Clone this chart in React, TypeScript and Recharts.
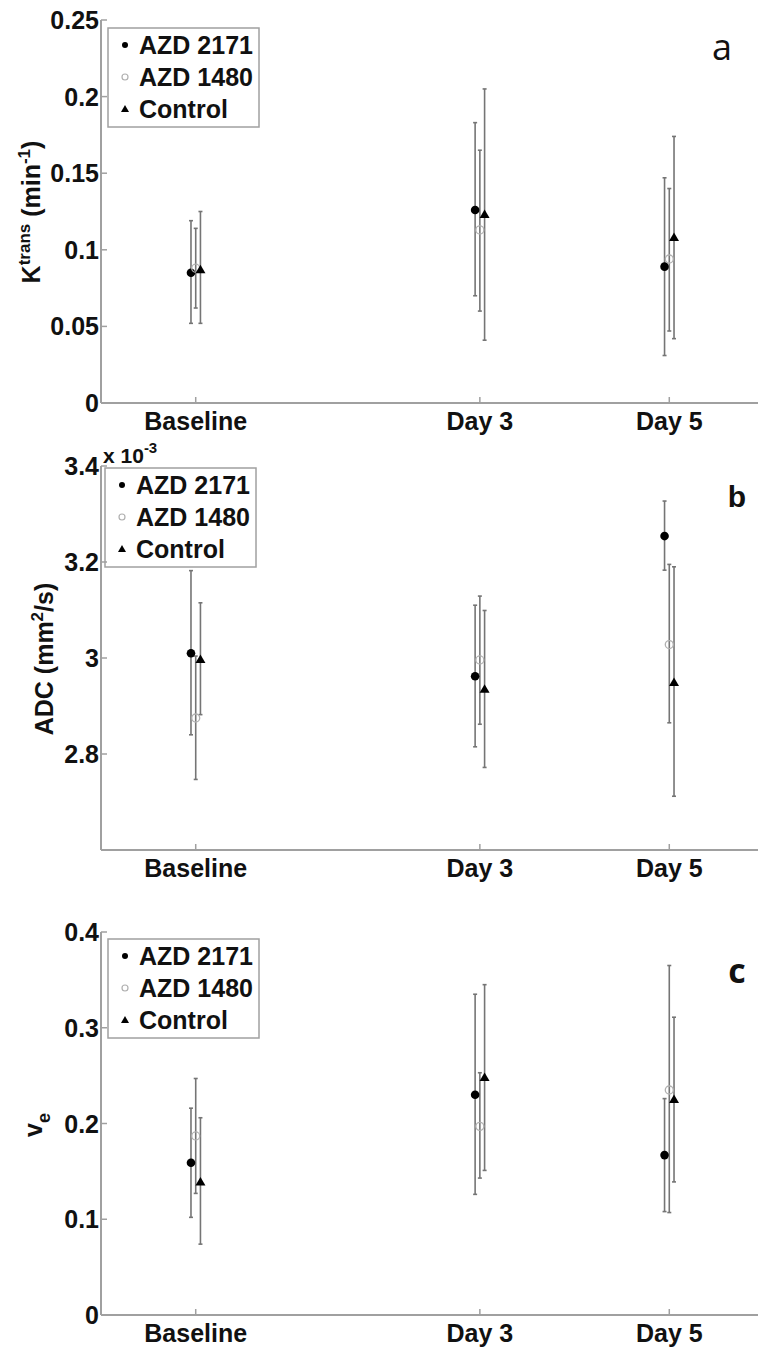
import React from 'react';
import { ScatterChart, Scatter, XAxis, YAxis, ErrorBar } from 'recharts';

// ---------- shared categories ----------
const days = [0, 3, 5];
const dayLabels = ['Baseline', 'Day 3', 'Day 5'];
const seriesNames = ['AZD 2171', 'AZD 1480', 'Control'];
const seriesOffsets = [-0.05, 0, 0.05];

// ---------- panel a : Ktrans (min^-1) ----------
const ktransAzd2171Mean = [0.085, 0.126, 0.089];
const ktransAzd2171Low = [0.052, 0.070, 0.031];
const ktransAzd2171High = [0.119, 0.183, 0.147];
const ktransAzd1480Mean = [0.088, 0.113, 0.094];
const ktransAzd1480Low = [0.062, 0.060, 0.047];
const ktransAzd1480High = [0.114, 0.165, 0.140];
const ktransControlMean = [0.087, 0.123, 0.108];
const ktransControlLow = [0.052, 0.041, 0.042];
const ktransControlHigh = [0.125, 0.205, 0.174];
const ktransTicks = [0, 0.05, 0.1, 0.15, 0.2, 0.25];
const ktransTickLabels = ['0', '0.05', '0.1', '0.15', '0.2', '0.25'];

// ---------- panel b : ADC (x10^-3 mm^2/s) ----------
const adcAzd2171Mean = [3.010, 2.962, 3.254];
const adcAzd2171Low = [2.840, 2.815, 3.183];
const adcAzd2171High = [3.182, 3.110, 3.327];
const adcAzd1480Mean = [2.875, 2.996, 3.028];
const adcAzd1480Low = [2.747, 2.862, 2.865];
const adcAzd1480High = [3.004, 3.129, 3.195];
const adcControlMean = [2.997, 2.935, 2.949];
const adcControlLow = [2.882, 2.772, 2.712];
const adcControlHigh = [3.115, 3.099, 3.190];
const adcTicks = [2.8, 3, 3.2, 3.4];
const adcTickLabels = ['2.8', '3', '3.2', '3.4'];

// ---------- panel c : ve ----------
const veAzd2171Mean = [0.159, 0.230, 0.167];
const veAzd2171Low = [0.102, 0.126, 0.108];
const veAzd2171High = [0.216, 0.335, 0.226];
const veAzd1480Mean = [0.187, 0.197, 0.235];
const veAzd1480Low = [0.127, 0.143, 0.107];
const veAzd1480High = [0.247, 0.253, 0.365];
const veControlMean = [0.139, 0.248, 0.225];
const veControlLow = [0.074, 0.151, 0.139];
const veControlHigh = [0.206, 0.345, 0.311];
const veTicks = [0, 0.1, 0.2, 0.3, 0.4];
const veTickLabels = ['0', '0.1', '0.2', '0.3', '0.4'];

// ---------- styles ----------
const FONT = '"Liberation Sans", Arial, Helvetica, sans-serif';
const AXIS = '#a0a0a0';
const ERR = '#757575';
const TEXT = '#111';
const OPEN = '#b0b0b0';
const CHART_W = 770;

type Pt = { x: number; y: number; err: [number, number] };

function buildSeries(mean: number[], low: number[], high: number[], idx: number): Pt[] {
  return days.map((d, i) => ({
    x: d + seriesOffsets[idx],
    y: mean[i],
    err: [mean[i] - low[i], high[i] - mean[i]],
  }));
}

const FilledDot = (p: any) => <circle cx={p.cx} cy={p.cy} r={4.3} fill="#000" />;
const OpenDot = (p: any) => (
  <circle cx={p.cx} cy={p.cy} r={4} fill="none" stroke={OPEN} strokeWidth={1.3} />
);
const Tri = (p: any) => (
  <polygon
    points={`${p.cx},${p.cy - 5} ${p.cx - 5},${p.cy + 3.5} ${p.cx + 5},${p.cy + 3.5}`}
    fill="#000"
  />
);
const shapes = [FilledDot, OpenDot, Tri];

const XTickBottom = (p: any) => {
  const { x, y, payload } = p;
  const idx = days.indexOf(payload.value);
  return (
    <g>
      <line x1={x} y1={y} x2={x} y2={y - 6} stroke={AXIS} strokeWidth={1.5} />
      <text x={x} y={y + 27} textAnchor="middle" fontFamily={FONT} fontSize={25} fontWeight="bold" fill={TEXT}>
        {idx >= 0 ? dayLabels[idx] : ''}
      </text>
    </g>
  );
};
const XTickTop = (p: any) => (
  <line x1={p.x} y1={p.y} x2={p.x} y2={p.y + 6} stroke={AXIS} strokeWidth={1.5} />
);
const makeYTickLeft = (ticks: number[], labels: string[]) => (p: any) => {
  const { x, y, payload } = p;
  const idx = ticks.findIndex((t) => Math.abs(t - payload.value) < 1e-9);
  return (
    <g>
      <line x1={x} y1={y} x2={x + 6} y2={y} stroke={AXIS} strokeWidth={1.5} />
      <text x={x - 2} y={y + 9} textAnchor="end" fontFamily={FONT} fontSize={25} fontWeight="bold" fill={TEXT}>
        {idx >= 0 ? labels[idx] : ''}
      </text>
    </g>
  );
};
const YTickRight = (p: any) => (
  <line x1={p.x} y1={p.y} x2={p.x - 8} y2={p.y} stroke={AXIS} strokeWidth={1.5} />
);

function LegendBox({ x, y }: { x: number; y: number }) {
  return (
    <g>
      <rect x={x} y={y} width={151} height={99} fill="#fff" stroke={AXIS} strokeWidth={1.5} />
      {seriesNames.map((name, i) => {
        const base = y + 26 + i * 32;
        const cx = x + 17;
        const cy = base - 9;
        let marker;
        if (i === 0) marker = <circle cx={cx} cy={cy} r={3} fill="#000" />;
        else if (i === 1) marker = <circle cx={cx} cy={cy} r={3} fill="none" stroke={OPEN} strokeWidth={1.2} />;
        else marker = <polygon points={`${cx},${cy - 4} ${cx - 4},${cy + 3} ${cx + 4},${cy + 3}`} fill="#000" />;
        return (
          <g key={name}>
            {marker}
            <text x={x + 31} y={base} fontFamily={FONT} fontSize={25} fontWeight="bold" fill={TEXT}>
              {name}
            </text>
          </g>
        );
      })}
    </g>
  );
}

type PanelProps = {
  height: number;
  marginTop: number;
  xAxisHeight: number;
  yDomain: [number, number];
  yTicks: number[];
  yTickLabels: string[];
  series: Pt[][];
  children?: React.ReactNode;
};

function Panel({ height, marginTop, xAxisHeight, yDomain, yTicks, yTickLabels, series, children }: PanelProps) {
  return (
    <ScatterChart width={CHART_W} height={height} margin={{ top: marginTop, right: 6, bottom: 0, left: 0 }}>
      <XAxis
        xAxisId={0}
        type="number"
        dataKey="x"
        domain={[-1, 6]}
        ticks={days}
        interval={0}
        orientation="bottom"
        height={xAxisHeight}
        tickSize={0}
        tickMargin={0}
        tickLine={false}
        axisLine={{ stroke: AXIS, strokeWidth: 2 }}
        tick={(p: any) => <XTickBottom {...p} />}
        allowDataOverflow
      />
      <XAxis
        xAxisId="top"
        type="number"
        domain={[-1, 6]}
        ticks={days}
        interval={0}
        orientation="top"
        height={0}
        tickSize={0}
        tickMargin={0}
        tickLine={false}
        axisLine={{ stroke: AXIS, strokeWidth: 2 }}
        tick={(p: any) => <XTickTop {...p} />}
        allowDataOverflow
      />
      <YAxis
        yAxisId={0}
        type="number"
        dataKey="y"
        domain={yDomain}
        ticks={yTicks}
        interval={0}
        orientation="left"
        width={101}
        tickSize={0}
        tickMargin={0}
        tickLine={false}
        axisLine={{ stroke: AXIS, strokeWidth: 2 }}
        tick={makeYTickLeft(yTicks, yTickLabels)}
        allowDataOverflow
      />
      <YAxis
        yAxisId="right"
        type="number"
        domain={yDomain}
        ticks={yTicks}
        interval={0}
        orientation="right"
        width={0}
        tickSize={0}
        tickMargin={0}
        tickLine={false}
        axisLine={{ stroke: AXIS, strokeWidth: 2 }}
        tick={(p: any) => <YTickRight {...p} />}
        allowDataOverflow
      />
      {series.map((data, i) => (
        <Scatter
          key={seriesNames[i]}
          name={seriesNames[i]}
          data={data}
          xAxisId={0}
          yAxisId={0}
          shape={shapes[i]}
          isAnimationActive={false}
        >
          <ErrorBar dataKey="err" direction="y" width={2} stroke={ERR} strokeWidth={1.6} isAnimationActive={false} />
        </Scatter>
      ))}
      {children}
    </ScatterChart>
  );
}

export default function App() {
  const seriesA = [
    buildSeries(ktransAzd2171Mean, ktransAzd2171Low, ktransAzd2171High, 0),
    buildSeries(ktransAzd1480Mean, ktransAzd1480Low, ktransAzd1480High, 1),
    buildSeries(ktransControlMean, ktransControlLow, ktransControlHigh, 2),
  ];
  const seriesB = [
    buildSeries(adcAzd2171Mean, adcAzd2171Low, adcAzd2171High, 0),
    buildSeries(adcAzd1480Mean, adcAzd1480Low, adcAzd1480High, 1),
    buildSeries(adcControlMean, adcControlLow, adcControlHigh, 2),
  ];
  const seriesC = [
    buildSeries(veAzd2171Mean, veAzd2171Low, veAzd2171High, 0),
    buildSeries(veAzd1480Mean, veAzd1480Low, veAzd1480High, 1),
    buildSeries(veControlMean, veControlLow, veControlHigh, 2),
  ];

  const labelStyle = { fontFamily: FONT, fontSize: 25, fontWeight: 'bold' as const, fill: TEXT };

  return (
    <div style={{ position: 'absolute', left: 0, top: 0, width: 758, height: 1348, overflow: 'hidden', background: '#fff' }}>
      <div style={{ position: 'absolute', left: 0, top: 0, width: 758, height: 440, overflow: 'hidden' }}>
        <Panel height={440} marginTop={20} xAxisHeight={37} yDomain={[0, 0.25]} yTicks={ktransTicks} yTickLabels={ktransTickLabels} series={seriesA}>
          <LegendBox x={108} y={28} />
          <text x={722} y={60} textAnchor="middle" fontFamily='"Open Sans", "Noto Sans", sans-serif' fontSize={36} fill={TEXT}>a</text>
          <text transform="rotate(-90)" x={-212} y={40} textAnchor="middle" {...labelStyle}>
            K<tspan dy={-10} fontSize={17}>trans</tspan>
            <tspan dy={10}> (min</tspan>
            <tspan dy={-10} fontSize={17}>-1</tspan>
            <tspan dy={10}>)</tspan>
          </text>
        </Panel>
      </div>
      <div style={{ position: 'absolute', left: 0, top: 440, width: 758, height: 460, overflow: 'hidden' }}>
        <Panel height={460} marginTop={26} xAxisHeight={50} yDomain={[2.6, 3.4]} yTicks={adcTicks} yTickLabels={adcTickLabels} series={seriesB}>
          <LegendBox x={105} y={28} />
          <text x={103} y={23} fontFamily={FONT} fontSize={21} fontWeight="bold" fill={TEXT}>
            x 10<tspan dy={-10} fontSize={15}>-3</tspan>
          </text>
          <text x={737} y={67} textAnchor="middle" fontFamily={FONT} fontSize={30} fontWeight="bold" fill={TEXT}>b</text>
          <text transform="rotate(-90)" x={-219} y={53} textAnchor="middle" {...labelStyle}>
            ADC (mm<tspan dy={-10} fontSize={17}>2</tspan>
            <tspan dy={10}>/s)</tspan>
          </text>
        </Panel>
      </div>
      <div style={{ position: 'absolute', left: 0, top: 900, width: 758, height: 448, overflow: 'hidden' }}>
        <Panel height={448} marginTop={32} xAxisHeight={33} yDomain={[0, 0.4]} yTicks={veTicks} yTickLabels={veTickLabels} series={seriesC}>
          <LegendBox x={108} y={39} />
          <text x={737} y={83} textAnchor="middle" fontFamily='"Open Sans", "Noto Sans", sans-serif' fontSize={34} fontWeight="bold" fill={TEXT}>c</text>
          <text transform="rotate(-90)" x={-225} y={42} textAnchor="middle" {...labelStyle}>
            v<tspan dy={8} fontSize={18}>e</tspan>
          </text>
        </Panel>
      </div>
    </div>
  );
}
